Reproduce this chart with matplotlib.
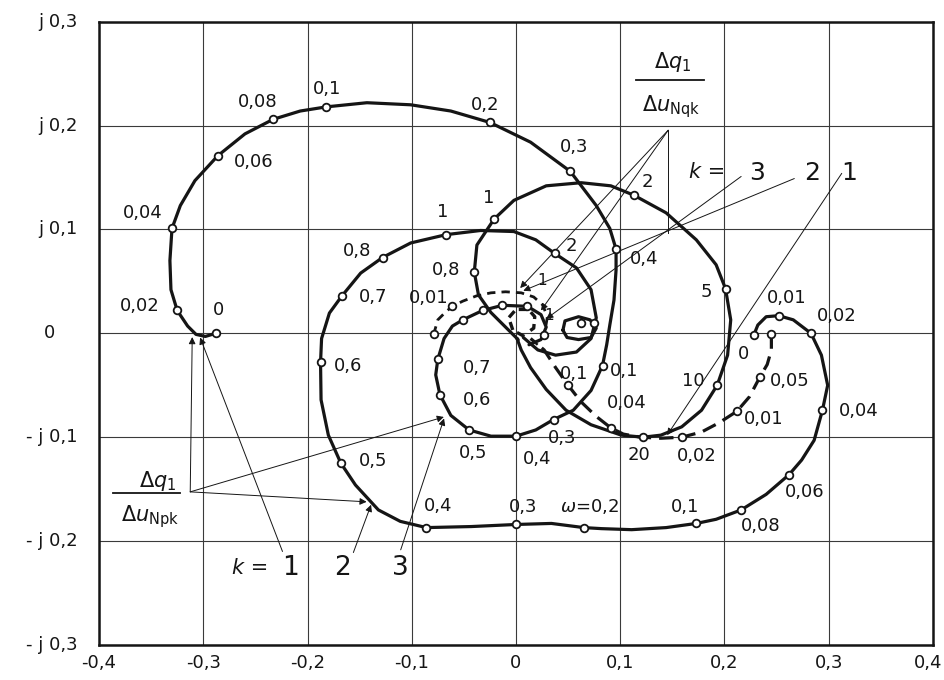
import numpy as np
import matplotlib
matplotlib.use("Agg")
import matplotlib.pyplot as plt

INK = "#151515"

# ---- curve k=1 (dq1/duNpk), outer spiral, continues into the centre loop
a_x = [-0.288, -0.298, -0.307, -0.315, -0.325, -0.331, -0.332, -0.330, -0.322, -0.308,
       -0.286, -0.260, -0.233, -0.207, -0.182, -0.143, -0.101, -0.0625, -0.025, 0.014,
       0.052, 0.077, 0.090, 0.096, 0.096, 0.094, 0.090, 0.087, 0.083, 0.072, 0.055,
       0.036, 0.019, 0.000, -0.024, -0.045, -0.0625, -0.073, -0.077, -0.075, -0.069,
       -0.061, -0.051, -0.032, -0.013, 0.011, 0.024, 0.029, 0.024, 0.0125]
a_y = [0.000, -0.003, -0.001, 0.007, 0.022, 0.042, 0.070, 0.101, 0.123, 0.147,
       0.171, 0.192, 0.206, 0.214, 0.218, 0.222, 0.220, 0.214, 0.203, 0.184,
       0.156, 0.123, 0.101, 0.081, 0.061, 0.032, 0.008, -0.011, -0.031, -0.055, -0.074,
       -0.083, -0.093, -0.099, -0.099, -0.093, -0.079, -0.059, -0.040, -0.025, -0.005,
       0.007, 0.013, 0.022, 0.027, 0.026, 0.018, 0.006, -0.006, -0.011]
a_mark_x = [-0.288, -0.325, -0.330, -0.286, -0.233, -0.182, -0.025, 0.052, 0.096, 0.083,
            0.036, 0.000, -0.045, -0.073, -0.075, -0.051, -0.032, -0.013, 0.011]
a_mark_y = [0.000, 0.022, 0.101, 0.171, 0.206, 0.218, 0.203, 0.156, 0.081, -0.031,
            -0.083, -0.099, -0.093, -0.059, -0.025, 0.013, 0.022, 0.027, 0.026]

# ---- curve k=2 (dq1/duNpk), big lower loop
b_x = [0.228, 0.232, 0.240, 0.252, 0.266, 0.283, 0.293, 0.299, 0.294, 0.286,
       0.274, 0.262, 0.240, 0.216, 0.192, 0.173, 0.144, 0.111, 0.082, 0.065,
       0.034, 0.000, -0.043, -0.086, -0.111, -0.132, -0.154, -0.168, -0.180, -0.187,
       -0.1875, -0.1865, -0.179, -0.167, -0.149, -0.128, -0.101, -0.067, -0.034, -0.002,
       0.019, 0.037, 0.058, 0.072, 0.077, 0.072, 0.058, 0.038, 0.021, 0.007]
b_y = [-0.002, 0.008, 0.016, 0.017, 0.013, 0.000, -0.021, -0.050, -0.074, -0.103,
       -0.122, -0.136, -0.155, -0.170, -0.179, -0.183, -0.187, -0.189, -0.188, -0.187,
       -0.183, -0.184, -0.186, -0.187, -0.181, -0.170, -0.146, -0.125, -0.098, -0.064,
       -0.028, -0.005, 0.0195, 0.036, 0.058, 0.073, 0.087, 0.095, 0.099, 0.098,
       0.090, 0.077, 0.063, 0.042, 0.015, -0.005, -0.018, -0.021, -0.016, -0.004]
b_mark_x = [0.228, 0.252, 0.283, 0.294, 0.262, 0.216, 0.173, 0.065, 0.000, -0.086,
            -0.168, -0.1875, -0.167, -0.128, -0.067, 0.037]
b_mark_y = [-0.002, 0.017, 0.000, -0.074, -0.136, -0.170, -0.183, -0.187, -0.184, -0.187,
            -0.125, -0.028, 0.036, 0.073, 0.095, 0.077]

# ---- big loop through 1, 2, 5, 10, 20
l_x = [0.002, -0.010, -0.024, -0.036, -0.040, -0.0375, -0.021, -0.002, 0.029, 0.0625,
       0.091, 0.113, 0.144, 0.173, 0.192, 0.201, 0.206, 0.203, 0.193, 0.178,
       0.159, 0.139, 0.122, 0.101, 0.072, 0.048, 0.029, 0.014, 0.005, 0.001]
l_y = [-0.006, 0.006, 0.020, 0.037, 0.059, 0.085, 0.110, 0.128, 0.142, 0.145,
       0.142, 0.133, 0.116, 0.090, 0.066, 0.043, 0.013, -0.021, -0.050, -0.074,
       -0.090, -0.098, -0.100, -0.098, -0.088, -0.074, -0.054, -0.033, -0.016, -0.005]
l_mark_x = [-0.040, -0.021, 0.113, 0.201, 0.193, 0.122]
l_mark_y = [0.059, 0.110, 0.133, 0.043, -0.050, -0.100]

# ---- dashed curve from the right (0, 0,05, 0,01, 0,02, 0,04, 0,1)
d2_x = [0.245, 0.245, 0.241, 0.234, 0.224, 0.212, 0.195, 0.178, 0.159, 0.139,
        0.120, 0.103, 0.091, 0.077, 0.0625, 0.050, 0.038, 0.027, 0.014]
d2_y = [-0.001, -0.016, -0.030, -0.042, -0.061, -0.075, -0.086, -0.095, -0.100, -0.101,
        -0.100, -0.097, -0.091, -0.080, -0.066, -0.050, -0.033, -0.016, -0.005]
d2_mark_x = [0.245, 0.234, 0.212, 0.159, 0.091, 0.050]
d2_mark_y = [-0.001, -0.042, -0.075, -0.100, -0.091, -0.050]

# ---- dashed arc in the centre (0,01 ...)
d1_x = [-0.079, -0.075, -0.067, -0.061, -0.051, -0.038, -0.024, -0.010, 0.005, 0.017,
        0.026, 0.030, 0.027, 0.019]
d1_y = [-0.001, 0.013, 0.021, 0.026, 0.031, 0.036, 0.039, 0.040, 0.039, 0.035,
        0.027, 0.015, -0.002, -0.011]
d1_mark_x = [-0.079, -0.061, 0.027]
d1_mark_y = [-0.001, 0.026, -0.002]

# ---- small loops near the origin
o_x = [0.045, 0.047, 0.060, 0.071, 0.077, 0.072, 0.060, 0.049, 0.045]
o_y = [0.003, 0.012, 0.016, 0.013, 0.005, -0.004, -0.006, -0.004, 0.003]
o_mark_x = [0.0625, 0.075]
o_mark_y = [0.010, 0.010]
s_x = [0.008, -0.003, -0.007, 0.000, 0.012, 0.018, 0.017, 0.010]
s_y = [-0.003, 0.003, 0.015, 0.023, 0.023, 0.016, 0.005, 0.000]

# ---- frequency labels (text, x, y)
omega_labels = [
    ("0", -0.285, 0.022), ("0,02", -0.361, 0.026), ("0,04", -0.358, 0.116),
    ("0,06", -0.252, 0.165), ("0,08", -0.248, 0.223), ("0,1", -0.181, 0.235),
    ("0,2", -0.030, 0.220), ("0,3", 0.056, 0.179), ("0,4", 0.123, 0.072),
    ("0,1", 0.104, -0.036), ("0,3", 0.044, -0.101), ("0,4", 0.020, -0.121),
    ("0,5", -0.041, -0.115), ("0,6", -0.037, -0.064), ("0,7", -0.037, -0.033),
    ("0", 0.218, -0.020), ("0,01", 0.260, 0.034), ("0,02", 0.308, 0.017),
    ("0,04", 0.329, -0.075), ("0,06", 0.277, -0.153), ("0,08", 0.235, -0.185),
    ("0,1", 0.162, -0.167), (r"$\omega$=0,2", 0.071, -0.167), ("0,3", 0.007, -0.167),
    ("0,4", -0.075, -0.166), ("0,5", -0.137, -0.123), ("0,6", -0.161, -0.031),
    ("0,7", -0.1375, 0.035), ("0,8", -0.152, 0.079), ("1", -0.070, 0.117),
    ("2", 0.053, 0.084),
    ("0,8", -0.067, 0.061), ("1", -0.026, 0.130), ("2", 0.126, 0.146),
    ("5", 0.183, 0.040), ("10", 0.170, -0.046), ("20", 0.118, -0.117),
    ("0,05", 0.263, -0.046), ("0,01", 0.2375, -0.082), ("0,02", 0.173, -0.118),
    ("0,04", 0.106, -0.067), ("0,1", 0.056, -0.039),
    ("0,01", -0.084, 0.034),
]
centre_labels = [("1", 0.025, 0.051), ("1", 0.032, 0.017)]

# ---- pointer lines (start -> end), arrow at the end
npk_anchor = (-0.3125, -0.1526)
npk_targets = [(-0.3106, -0.0036), (-0.1433, -0.1622), (-0.0692, -0.0805)]
npk_k_lines = [((-0.224, -0.210), (-0.303, -0.004)),
               ((-0.156, -0.211), (-0.139, -0.165)),
               ((-0.1106, -0.2084), (-0.069, -0.082))]
nqk_apex = (0.146, 0.1955)
nqk_targets = [(0.004, 0.0436), (0.024, 0.022)]
nqk_stem_end = (0.146, 0.097)
nqk_k_lines = [((0.3125, 0.154), (0.145, -0.098)),
               ((0.267, 0.149), (0.007, 0.041)),
               ((0.216, 0.151), (0.029, 0.014))]

x_ticks = [-0.4, -0.3, -0.2, -0.1, 0.0, 0.1, 0.2, 0.3, 0.4]
x_tick_labels = ["-0,4", "-0,3", "-0,2", "-0,1", "0", "0,1", "0,2", "0,3", "0,4"]
y_ticks = [0.3, 0.2, 0.1, 0.0, -0.1, -0.2, -0.3]
y_tick_labels = ["j 0,3", "j 0,2", "j 0,1", "0", "- j 0,1", "- j 0,2", "- j 0,3"]


fig = plt.figure(figsize=(9.44, 6.8), dpi=100)
ax = fig.add_axes([0.1049, 0.0515, 0.8834, 0.9166])
ax.set_xlim(-0.4, 0.4)
ax.set_ylim(-0.3, 0.3)
ax.set_xticks(x_ticks)
ax.set_yticks(y_ticks)
ax.tick_params(length=0, labelbottom=False, labelleft=False)
ax.grid(True, color="#3a3a3a", lw=0.8)
for sp in ax.spines.values():
    sp.set_linewidth(1.8)
    sp.set_color(INK)

FS = 13

# tick labels as plain texts
for v, t in zip(x_ticks, x_tick_labels):
    if v == x_ticks[-1]:
        # last label pulled inside so it is not cut at the figure edge
        ax.text(v + 0.0095, -0.029, t, transform=ax.get_xaxis_transform(),
                ha="right", va="center", fontsize=FS, color=INK)
    else:
        ax.text(v, -0.029, t, transform=ax.get_xaxis_transform(), ha="center",
                va="center", fontsize=FS, color=INK)
for v, t in zip(y_ticks, y_tick_labels):
    if t == "0":
        ax.text(-0.059, v, t, transform=ax.get_yaxis_transform(), ha="center",
                va="center", fontsize=FS, color=INK)
    else:
        ax.text(-0.026, v, t, transform=ax.get_yaxis_transform(), ha="right",
                va="center", fontsize=FS, color=INK)

# thin pointer lines
arrow_kw = dict(arrowstyle="-|>", color=INK, lw=0.7, mutation_scale=10,
                shrinkA=0, shrinkB=0)
for tgt in npk_targets:
    ax.annotate("", xy=tgt, xytext=npk_anchor, arrowprops=arrow_kw)
for st, en in npk_k_lines:
    ax.annotate("", xy=en, xytext=st, arrowprops=arrow_kw)
for tgt in nqk_targets:
    ax.annotate("", xy=tgt, xytext=nqk_apex, arrowprops=arrow_kw)
ax.plot([nqk_apex[0], nqk_stem_end[0]], [nqk_apex[1], nqk_stem_end[1]],
        color=INK, lw=0.7)
for st, en in nqk_k_lines:
    ax.annotate("", xy=en, xytext=st, arrowprops=arrow_kw)

# curves
thick = dict(color=INK, lw=2.3, solid_capstyle="round", solid_joinstyle="round")
ax.plot(a_x, a_y, **thick)
ax.plot(b_x, b_y, **thick)
ax.plot(l_x, l_y, **thick)
ax.plot(o_x, o_y, **thick)
ax.plot(d2_x, d2_y, color=INK, lw=2.3, linestyle=(0, (4.5, 2.5)))
ax.plot(d1_x, d1_y, color=INK, lw=2.0, linestyle=(0, (3, 2.2)))
ax.plot(s_x, s_y, color=INK, lw=2.4, linestyle=(0, (2.5, 1.5)))

mark = dict(linestyle="none", marker="o", ms=5.5, mfc="white", mec=INK, mew=1.3,
            zorder=5)
for mx, my in [(a_mark_x, a_mark_y), (b_mark_x, b_mark_y), (l_mark_x, l_mark_y),
               (d2_mark_x, d2_mark_y), (d1_mark_x, d1_mark_y), (o_mark_x, o_mark_y)]:
    ax.plot(mx, my, **mark)

# frequency labels
for t, x, y in omega_labels:
    ax.text(x, y, t, ha="center", va="center", fontsize=FS, color=INK)
for t, x, y in centre_labels:
    ax.text(x, y, t, ha="center", va="center", fontsize=11, color=INK)

# k labels
ax.text(-0.255, -0.226, "k =", ha="center", va="center", fontsize=15,
        style="italic", color=INK)
for t, x in [("1", -0.216), ("2", -0.166), ("3", -0.111)]:
    ax.text(x, -0.226, t, ha="center", va="center", fontsize=19, color=INK)
ax.text(0.183, 0.155, "k =", ha="center", va="center", fontsize=15,
        style="italic", color=INK)
for t, x in [("3", 0.231), ("2", 0.284), ("1", 0.320)]:
    ax.text(x, 0.154, t, ha="center", va="center", fontsize=18, color=INK)

# fraction labels
ax.text(0.150, 0.261, r"$\Delta q_1$", ha="center", va="center", fontsize=15,
        color=INK)
ax.plot([0.115, 0.180], [0.2436, 0.2436], color=INK, lw=1.3)
ax.text(0.149, 0.2186, r"$\Delta u_{\mathrm{Nqk}}$", ha="center", va="center",
        fontsize=15, color=INK)
ax.text(-0.344, -0.142, r"$\Delta q_1$", ha="center", va="center", fontsize=15,
        color=INK)
ax.plot([-0.3865, -0.322], [-0.1533, -0.1533], color=INK, lw=1.3)
ax.text(-0.351, -0.1767, r"$\Delta u_{\mathrm{Npk}}$", ha="center", va="center",
        fontsize=15, color=INK)

fig.savefig("out.png", dpi=100)
